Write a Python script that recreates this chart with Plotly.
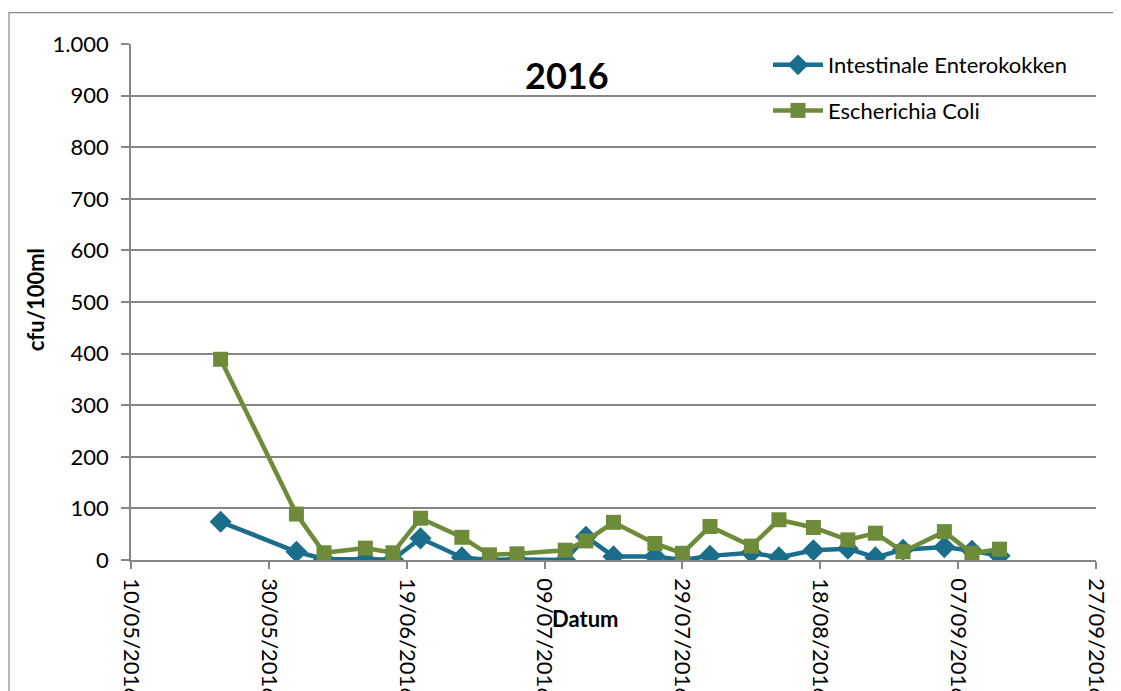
import plotly.graph_objects as go

dates = ["2016-05-23", "2016-06-03", "2016-06-07", "2016-06-13", "2016-06-17", "2016-06-21",
         "2016-06-27", "2016-07-01", "2016-07-05", "2016-07-12", "2016-07-15", "2016-07-19",
         "2016-07-25", "2016-07-29", "2016-08-02", "2016-08-08", "2016-08-12", "2016-08-17",
         "2016-08-22", "2016-08-26", "2016-08-30", "2016-09-05", "2016-09-09", "2016-09-13"]
enterokokken = [74, 16, 2, 1, 1, 42, 5, 0, 1, 0, 45, 7, 7, 0, 8, 14, 5, 19, 22, 5, 20, 25, 18, 8]
ecoli = [389, 89, 14, 23, 14, 81, 44, 10, 12, 19, 37, 73, 32, 13, 65, 27, 78, 63, 39, 52, 16, 55, 13, 21]

BLUE = "#1b6e8b"
GREEN = "#6e8b3a"
GRAY = "#868686"
FONT = "Lato"
FS = 22

# page offset of the plotly div (body margin)
OFF = 8
W, H = 1121, 691
# target plot area in screen pixels
X0, X1, Y0, Y1 = 131, 1096, 43.5, 560
L = X0 - OFF
T = Y0 - OFF
R = W + OFF - X1
B = H + OFF - Y1
pw, ph = X1 - X0, Y1 - Y0

def px(x):
    return (x - X0) / pw

def py(y):
    return (Y1 - y) / ph

fig = go.Figure()
fig.add_trace(go.Scatter(
    x=dates, y=enterokokken, name="Intestinale Enterokokken", mode="lines+markers",
    line=dict(color=BLUE, width=4.5), marker=dict(symbol="diamond", size=17, color=BLUE),
    legendgroup="a"))
fig.add_trace(go.Scatter(
    x=dates, y=ecoli, name="Escherichia Coli", mode="lines+markers",
    line=dict(color=GREEN, width=4.5), marker=dict(symbol="square", size=15, color=GREEN),
    legendgroup="b"))

fig.update_layout(
    width=W, height=H,
    margin=dict(l=L, r=R, t=T, b=B, pad=0, autoexpand=False),
    paper_bgcolor="white", plot_bgcolor="white",
    font=dict(family=FONT, size=FS, color="black"),
    separators=",.",
    legend=dict(x=px(768), y=py(43.5), xanchor="left", yanchor="top",
                bgcolor="rgba(0,0,0,0)", itemwidth=50, font=dict(size=FS),
                tracegroupgap=14),
    xaxis=dict(
        type="date", range=["2016-05-10", "2016-09-27"],
        tick0="2016-05-10", dtick=20 * 86400000, tickformat="%d/%m/%Y",
        tickangle=90, ticks="outside", ticklen=7, tickcolor=GRAY, tickwidth=1.5,
        showgrid=False, showline=True, linecolor=GRAY, linewidth=1.5,
        zeroline=False, tickfont=dict(size=FS), ticklabelstandoff=5,
        automargin=False),
    yaxis=dict(
        range=[0, 1000], tick0=0, dtick=100, separatethousands=True,
        ticks="outside", ticklen=8, tickcolor=GRAY, tickwidth=1.5,
        showgrid=True, gridcolor=GRAY, gridwidth=1.5,
        showline=True, linecolor=GRAY, linewidth=1.5, zeroline=False,
        tickfont=dict(size=FS), ticklabelstandoff=8, automargin=False),
    shapes=[dict(type="rect", xref="paper", yref="paper",
                 x0=px(9), x1=px(1140), y0=py(720), y1=py(12),
                 line=dict(color=GRAY, width=1.2), layer="below")],
    annotations=[
        dict(text="<b>2016</b>", xref="paper", yref="paper", x=px(567), y=py(75),
             showarrow=False, font=dict(size=36), xanchor="center", yanchor="middle"),
        dict(text="<b>Datum</b>", xref="paper", yref="paper", x=px(585), y=py(619),
             showarrow=False, font=dict(size=FS), xanchor="center", yanchor="middle"),
        dict(text="<b>cfu/100ml</b>", xref="paper", yref="paper", x=px(35), y=py(300),
             showarrow=False, font=dict(size=FS), textangle=-90,
             xanchor="center", yanchor="middle"),
    ],
)

fig.write_html("out.html")
